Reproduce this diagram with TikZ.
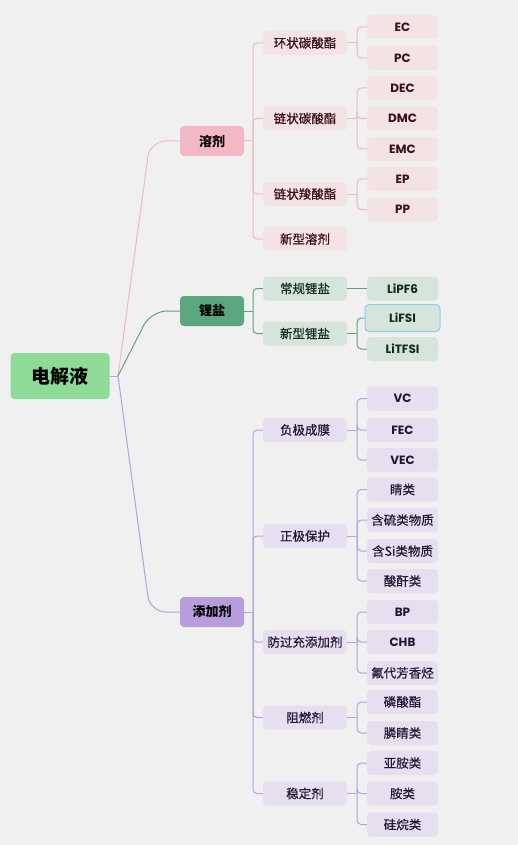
\documentclass[tikz,border=0pt]{standalone}
\usepackage{fontspec}
\setmainfont{Noto Sans CJK SC}
\newfontfamily\cjktext{Noto Sans CJK SC}[FakeBold=0.5]
\newfontfamily\latinfont{Poppins}
\usetikzlibrary{calc}
\tikzset{>=latex}

\definecolor{bggray}{HTML}{F0F0F0}
\definecolor{rootgreen}{HTML}{8EDB97}
\definecolor{rjpink}{HTML}{F2B9C5}
\definecolor{rjline}{HTML}{EEB9C4}
\definecolor{rjlight}{HTML}{F3E3E5}
\definecolor{rjtext}{HTML}{3A0E1A}
\definecolor{lygreen}{HTML}{5BA57F}
\definecolor{lyline}{HTML}{5FA282}
\definecolor{lylight}{HTML}{D6E5DC}
\definecolor{lytext}{HTML}{142A1E}
\definecolor{tjpurple}{HTML}{B89DDC}
\definecolor{tjline}{HTML}{B7A0DB}
\definecolor{tjlight}{HTML}{E6DFF0}
\definecolor{tjtext}{HTML}{231733}
\definecolor{selblue}{HTML}{8CCDF2}

\tikzset{
  box/.style={anchor=center, rounded corners=4pt, inner sep=0pt},
  rootbox/.style={box, fill=rootgreen, minimum width=99pt, minimum height=46pt,
    font=\fontsize{19}{19}\selectfont\bfseries},
  mainbox/.style={box, minimum width=64pt, minimum height=30pt,
    font=\fontsize{13}{13}\selectfont\bfseries},
  subbox/.style={box, minimum width=84pt, minimum height=24pt,
    font=\cjktext\fontsize{12.5}{12.5}\selectfont},
  leafbox/.style={box, minimum width=71pt, minimum height=24pt,
    font=\cjktext\fontsize{12.5}{12.5}\selectfont},
  en/.style={font=\latinfont\fontsize{12}{12}\selectfont\bfseries},
  rj/.style={fill=rjlight, text=rjtext},
  ly/.style={fill=lylight, text=lytext},
  tj/.style={fill=tjlight, text=tjtext},
  link/.style={line width=1pt},
  elbow/.style={line width=1pt, rounded corners=4pt},
}

\begin{document}
\begin{tikzpicture}[x=1pt, y=-1pt]
    \fill [bggray] (0,0) rectangle (518,845);
    \useasboundingbox (0,0) rectangle (518,845);

    \coordinate (hub) at (118, 376);
    \coordinate (rjfork) at (253, 141);
    \coordinate (lyfork) at (253, 311);
    \coordinate (tjfork) at (253, 612);

    \node [rootbox] (root) at (60, 376) {电解液};

    \node [mainbox, fill=rjpink] (rjmain) at (212, 141) {溶剂};
    \node [mainbox, fill=lygreen] (lymain) at (212, 311) {锂盐};
    \node [mainbox, fill=tjpurple] (tjmain) at (212, 612) {添加剂};

    % root to main branches
    \draw [link, tjline] (root.east) -- (hub);
    \draw [link, rjline, rounded corners=16pt] (hub) -- (150, 141) -- (rjmain.west);
    \draw [link, lyline, rounded corners=16pt] (hub) -- (151, 311) -- (lymain.west);
    \draw [link, tjline, rounded corners=16pt] (hub) -- (150, 612) -- (tjmain.west);

    % solvent
    \node [subbox, rj] (hzsub) at (305, 43) {环状碳酸酯};
    \node [subbox, rj] (lzsub) at (305, 118.5) {链状碳酸酯};
    \node [subbox, rj] (lssub) at (305, 194) {链状羧酸酯};
    \node [subbox, rj] (xrsub) at (305, 239) {新型溶剂};

    \node [leafbox, rj, en] (ec) at (402.5, 27) {EC};
    \node [leafbox, rj, en] (pc) at (402.5, 58) {PC};
    \node [leafbox, rj, en] (dec) at (402.5, 88) {DEC};
    \node [leafbox, rj, en] (dmc) at (402.5, 118.5) {DMC};
    \node [leafbox, rj, en] (emc) at (402.5, 149) {EMC};
    \node [leafbox, rj, en] (ep) at (402.5, 179) {EP};
    \node [leafbox, rj, en] (pp) at (402.5, 209.5) {PP};

    \draw [link, rjline] (rjmain.east) -- (rjfork);
    \foreach \c in {hzsub, lzsub, lssub, xrsub}
      \draw [elbow, rjline] (rjfork) |- (\c.west);

    \draw [link, rjline] (hzsub.east) -- ++(10,0) coordinate (hzfork);
    \foreach \c in {ec, pc}
      \draw [elbow, rjline] (hzfork) |- (\c.west);
    \draw [link, rjline] (lzsub.east) -- ++(10,0) coordinate (lzfork);
    \foreach \c in {dec, dmc, emc}
      \draw [elbow, rjline] (lzfork) |- (\c.west);
    \draw [link, rjline] (lssub.east) -- ++(10,0) coordinate (lsfork);
    \foreach \c in {ep, pp}
      \draw [elbow, rjline] (lsfork) |- (\c.west);

    % lithium salt
    \node [subbox, ly] (cgsub) at (305, 288.5) {常规锂盐};
    \node [subbox, ly] (xgsub) at (305, 333.5) {新型锂盐};

    \node [leafbox, ly, en] (lipf) at (402.5, 288.5) {LiPF6};
    \node [leafbox, ly, en, draw=selblue, line width=1pt,
      minimum width=75pt, minimum height=27pt] (lifsi) at (402.5, 318) {LiFSI};
    \node [leafbox, ly, en] (litfsi) at (402.5, 349) {LiTFSI};

    \draw [link, lyline] (lymain.east) -- (lyfork);
    \foreach \c in {cgsub, xgsub}
      \draw [elbow, lyline] (lyfork) |- (\c.west);
    \draw [link, lyline] (cgsub.east) -- (lipf.west);
    \draw [link, lyline] (xgsub.east) -- ++(10,0) coordinate (xgfork);
    \foreach \c in {lifsi, litfsi}
      \draw [elbow, lyline] (xgfork) |- (\c.west);

    % additives
    \node [subbox, tj] (fjsub) at (305, 430) {负极成膜};
    \node [subbox, tj] (zjsub) at (305, 536) {正极保护};
    \node [subbox, tj] (fgsub) at (305, 642) {防过充添加剂};
    \node [subbox, tj] (zrsub) at (305, 717.5) {阻燃剂};
    \node [subbox, tj] (wdsub) at (305, 793.5) {稳定剂};

    \node [leafbox, tj, en] (vc) at (402.5, 398.5) {VC};
    \node [leafbox, tj, en] (fec) at (402.5, 430) {FEC};
    \node [leafbox, tj, en] (vec) at (402.5, 460) {VEC};
    \node [leafbox, tj] (jl) at (402.5, 489.5) {睛类};
    \node [leafbox, tj] (hl) at (402.5, 520) {含硫类物质};
    \node [leafbox, tj] (hsi) at (402.5, 551) {含Si类物质};
    \node [leafbox, tj] (sg) at (402.5, 581) {酸酐类};
    \node [leafbox, tj, en] (bp) at (402.5, 612) {BP};
    \node [leafbox, tj, en] (chb) at (402.5, 642) {CHB};
    \node [leafbox, tj] (fd) at (402.5, 673) {氟代芳香烃};
    \node [leafbox, tj] (lsz) at (402.5, 702) {磷酸酯};
    \node [leafbox, tj] (ljl) at (402.5, 733) {膦睛类};
    \node [leafbox, tj] (yal) at (402.5, 763) {亚胺类};
    \node [leafbox, tj] (al) at (402.5, 793.5) {胺类};
    \node [leafbox, tj] (gwl) at (402.5, 824.5) {硅烷类};

    \draw [link, tjline] (tjmain.east) -- (tjfork);
    \foreach \c in {fjsub, zjsub, fgsub, zrsub, wdsub}
      \draw [elbow, tjline] (tjfork) |- (\c.west);

    \draw [link, tjline] (fjsub.east) -- ++(10,0) coordinate (fjfork);
    \foreach \c in {vc, fec, vec}
      \draw [elbow, tjline] (fjfork) |- (\c.west);
    \draw [link, tjline] (zjsub.east) -- ++(10,0) coordinate (zjfork);
    \foreach \c in {jl, hl, hsi, sg}
      \draw [elbow, tjline] (zjfork) |- (\c.west);
    \draw [link, tjline] (fgsub.east) -- ++(10,0) coordinate (fgfork);
    \foreach \c in {bp, chb, fd}
      \draw [elbow, tjline] (fgfork) |- (\c.west);
    \draw [link, tjline] (zrsub.east) -- ++(10,0) coordinate (zrfork);
    \foreach \c in {lsz, ljl}
      \draw [elbow, tjline] (zrfork) |- (\c.west);
    \draw [link, tjline] (wdsub.east) -- ++(10,0) coordinate (wdfork);
    \foreach \c in {yal, al, gwl}
      \draw [elbow, tjline] (wdfork) |- (\c.west);
\end{tikzpicture}
\end{document}
